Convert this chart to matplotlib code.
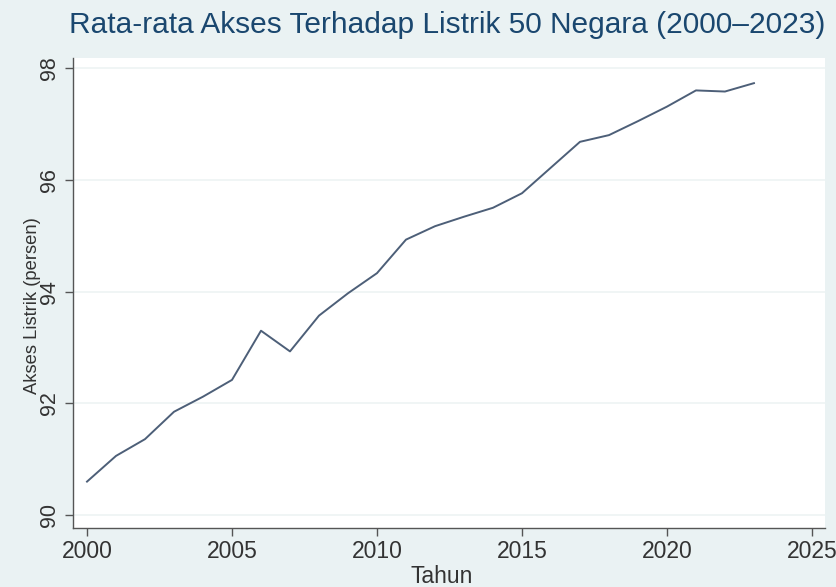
import matplotlib
matplotlib.use("Agg")
import matplotlib.pyplot as plt

# Rata-rata akses listrik (persen) untuk 50 negara per tahun
tahun = list(range(2000, 2024))
akses = [90.60, 91.06, 91.36, 91.85, 92.12, 92.42, 93.30, 92.93,
         93.57, 93.97, 94.33, 94.93, 95.17, 95.34, 95.50, 95.76,
         96.22, 96.68, 96.80, 97.05, 97.31, 97.60, 97.58, 97.73]

xticks = [2000, 2005, 2010, 2015, 2020, 2025]
yticks = [90, 92, 94, 96, 98]

BG_LUAR = "#eaf2f3"
GRID = "#eef3f4"
GARIS = "#4d5f78"
JUDUL = "#1a476f"
SUMBU = "#555555"
TEKS = "#333333"

plt.rcParams["font.family"] = ["Liberation Sans", "DejaVu Sans"]

fig = plt.figure(figsize=(8.36, 5.87), dpi=100, facecolor=BG_LUAR)
ax = fig.add_axes([73 / 836, 1 - 528 / 587, (825 - 73) / 836, (528 - 58) / 587])
ax.set_facecolor("white")

ax.plot(tahun, akses, color=GARIS, linewidth=1.4)

ax.set_xlim(1999.517, 2025.45)
ax.set_ylim(89.77, 98.18)
ax.set_xticks(xticks)
ax.set_yticks(yticks)
ax.grid(axis="y", color=GRID, linewidth=1.2)
ax.set_axisbelow(True)

for s in ["top", "right"]:
    ax.spines[s].set_visible(False)
for s in ["left", "bottom"]:
    ax.spines[s].set_color(SUMBU)
    ax.spines[s].set_linewidth(1.0)

ax.tick_params(axis="both", direction="out", length=6, width=1.0,
               color=SUMBU, labelcolor=TEKS)
ax.tick_params(axis="x", labelsize=16.5, pad=3)
ax.tick_params(axis="y", labelsize=15.5, pad=3)
for lbl in ax.get_yticklabels():
    lbl.set_rotation(90)
    lbl.set_va("center")

ax.set_xlabel("Tahun", fontsize=16.5, color=TEKS)
ax.xaxis.set_label_coords(0.49, -0.079)
ax.set_ylabel("Akses Listrik (persen)", fontsize=13.2, color=TEKS)
ax.yaxis.set_label_coords(-0.043, 0.474)

fig.text(0.535, 1 - 25 / 587, "Rata-rata Akses Terhadap Listrik 50 Negara (2000\u20132023)",
         ha="center", va="center", fontsize=21.5, color=JUDUL)

fig.savefig("out.png", dpi=100, facecolor=BG_LUAR)
